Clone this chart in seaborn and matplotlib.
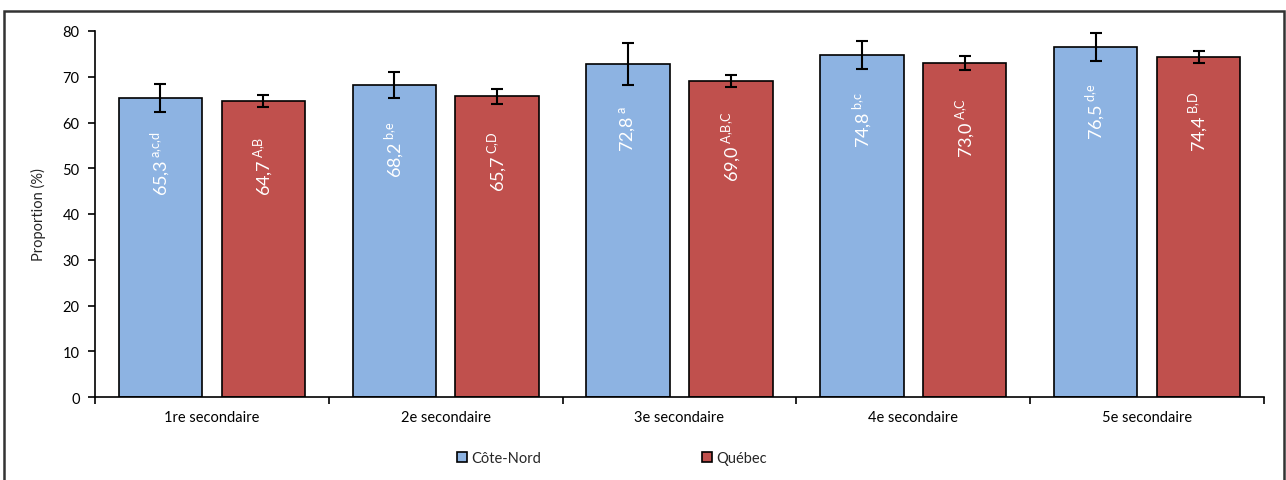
import numpy as np
import pandas as pd
import matplotlib
matplotlib.use("Agg")
import matplotlib.pyplot as plt
from matplotlib.patches import Rectangle
from matplotlib.container import BarContainer
import seaborn as sns

# ---- data ----
categories = ["1re secondaire", "2e secondaire", "3e secondaire", "4e secondaire", "5e secondaire"]
series_names = ["Côte-Nord", "Québec"]
cote_nord = [65.3, 68.2, 72.8, 74.8, 76.5]
quebec = [64.7, 65.7, 69.0, 73.0, 74.4]
cote_nord_err = [3.1, 2.9, 4.6, 3.1, 3.0]
quebec_err = [1.3, 1.6, 1.3, 1.5, 1.3]
cote_nord_sup = ["a,c,d", "b,e", "a", "b,c", "d,e"]
quebec_sup = ["A,B", "C,D", "A,B,C", "A,C", "B,D"]
colors = ["#8DB3E2", "#C0504D"]

sns.set_theme(style="white")
plt.rcParams["font.family"] = ["Lato", "DejaVu Sans"]
plt.rcParams["mathtext.fontset"] = "custom"
plt.rcParams["mathtext.rm"] = "Lato"

df = pd.DataFrame({
    "niveau": categories * 2,
    "valeur": cote_nord + quebec,
    "region": [series_names[0]] * 5 + [series_names[1]] * 5,
})

fig = plt.figure(figsize=(12.86, 4.81), dpi=100)
ax = fig.add_axes([95 / 1286, 1 - 398 / 481, (1264 - 95) / 1286, (398 - 32) / 481])

sns.barplot(data=df, x="niveau", y="valeur", hue="region", order=categories,
            hue_order=series_names, palette=colors, saturation=1, width=0.88, gap=0.19,
            edgecolor="black", linewidth=1.2, errorbar=None, ax=ax, legend=True)

errs = [cote_nord_err, quebec_err]
sups = [cote_nord_sup, quebec_sup]
vals = [cote_nord, quebec]
bar_conts = [c for c in ax.containers if isinstance(c, BarContainer)]
for k, cont in enumerate(bar_conts):
    for j, p in enumerate(cont.patches):
        xc = p.get_x() + p.get_width() / 2
        h = p.get_height()
        ax.errorbar(xc, h, yerr=errs[k][j], fmt="none", ecolor="black",
                    elinewidth=1.5, capsize=4, capthick=1.5, zorder=5)
        sup = sups[k][j].replace(",", "{,}")
        lab = f"{vals[k][j]:.1f}".replace(".", ",") + r"$\,^{\mathrm{" + sup + "}}$"
        ax.text(xc, h - 14, lab, rotation=90, ha="center", va="center",
                color="white", fontsize=13)

ax.set_ylim(0, 80)
ax.set_yticks(np.arange(0, 81, 10))
ax.set_xlim(-0.5, 4.5)
ax.set_xticks(range(len(categories)))
ax.set_xticklabels(categories, fontsize=10.5)
ax.set_xticks(np.arange(-0.5, 5, 1), minor=True)
ax.tick_params(axis="x", which="major", length=0, pad=9, colors="black")
ax.tick_params(axis="x", which="minor", length=5, width=1.2, direction="out", bottom=True, color="black")
ax.tick_params(axis="y", length=5, width=1.2, direction="out", left=True, labelsize=10.5, pad=6, colors="black")
ax.set_xlabel("")
ax.set_ylabel("Proportion (%)", fontsize=10.5, labelpad=12)
for s in ["top", "right"]:
    ax.spines[s].set_visible(False)
for s in ["left", "bottom"]:
    ax.spines[s].set_color("black")
    ax.spines[s].set_linewidth(1.2)

handles, labels = ax.get_legend_handles_labels()
ax.get_legend().remove()
fig.legend(handles, labels, loc="center", bbox_to_anchor=(612 / 1286, 1 - 459 / 481),
           ncol=2, frameon=False, fontsize=10.5, handlelength=0.7, handleheight=0.7,
           handletextpad=0.3, columnspacing=11)

fig.patches.append(Rectangle((4 / 1286, -0.02), 1280 / 1286, 1.02 - 12 / 481,
                             transform=fig.transFigure, fill=False,
                             edgecolor="#333333", linewidth=1.8))

fig.savefig("out.png", dpi=100)
